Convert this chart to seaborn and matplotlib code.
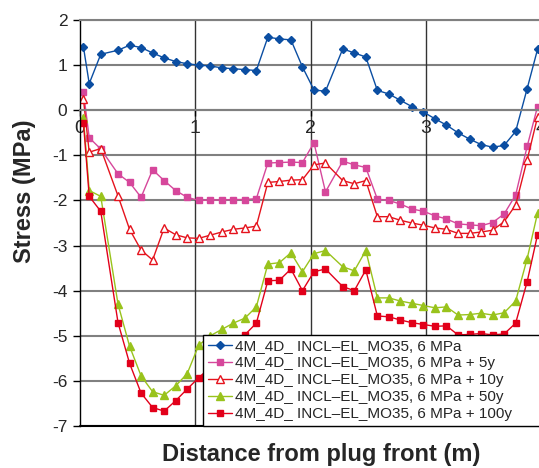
import matplotlib
matplotlib.use("Agg")
import matplotlib.pyplot as plt
import seaborn as sns

# distance along the plug (m)
distance = [0.03, 0.08, 0.18, 0.33, 0.43, 0.53, 0.63, 0.73, 0.83, 0.93,
            1.03, 1.13, 1.23, 1.33, 1.43, 1.53, 1.63, 1.73, 1.83, 1.93,
            2.03, 2.13, 2.28, 2.38, 2.48, 2.58, 2.68, 2.78, 2.88, 2.98,
            3.08, 3.18, 3.28, 3.38, 3.48, 3.58, 3.68, 3.78, 3.88, 3.97]

stress_0y = [1.40, 0.59, 1.24, 1.33, 1.44, 1.39, 1.27, 1.16, 1.08, 1.03,
             1.00, 0.98, 0.94, 0.92, 0.90, 0.88, 1.62, 1.58, 1.56, 0.96,
             0.45, 0.42, 1.36, 1.27, 1.18, 0.44, 0.36, 0.22, 0.08, -0.04,
             -0.19, -0.33, -0.50, -0.64, -0.76, -0.82, -0.78, -0.47, 0.48, 1.35]

stress_5y = [0.40, -0.61, -0.86, -1.41, -1.60, -1.93, -1.32, -1.56, -1.78, -1.93,
             -2.00, -1.99, -1.99, -1.98, -1.98, -1.96, -1.17, -1.16, -1.15, -1.16,
             -0.72, -1.81, -1.13, -1.21, -1.27, -1.97, -2.00, -2.08, -2.19, -2.24,
             -2.34, -2.41, -2.52, -2.54, -2.56, -2.49, -2.30, -1.88, -0.80, 0.08]

stress_10y = [0.24, -0.93, -0.85, -1.90, -2.64, -3.10, -3.32, -2.61, -2.76, -2.83,
              -2.84, -2.77, -2.70, -2.64, -2.61, -2.57, -1.60, -1.58, -1.55, -1.54,
              -1.21, -1.17, -1.56, -1.63, -1.56, -2.36, -2.36, -2.44, -2.50, -2.55,
              -2.61, -2.64, -2.73, -2.73, -2.70, -2.66, -2.47, -2.10, -1.10, -0.15]

stress_50y = [-0.17, -1.78, -1.91, -4.30, -5.23, -5.89, -6.24, -6.32, -6.11, -5.84,
              -5.21, -5.00, -4.86, -4.72, -4.61, -4.36, -3.41, -3.38, -3.16, -3.58,
              -3.18, -3.11, -3.47, -3.56, -3.11, -4.16, -4.16, -4.23, -4.28, -4.33,
              -4.38, -4.36, -4.54, -4.53, -4.50, -4.54, -4.49, -4.23, -3.29, -2.28]

stress_100y = [-0.28, -1.91, -2.24, -4.71, -5.61, -6.27, -6.59, -6.67, -6.44, -6.18,
               -5.93, -5.70, -5.45, -5.20, -4.98, -4.72, -3.78, -3.77, -3.52, -4.00,
               -3.58, -3.52, -3.91, -4.00, -3.54, -4.56, -4.58, -4.65, -4.71, -4.75,
               -4.79, -4.78, -4.98, -4.97, -4.95, -4.98, -4.96, -4.72, -3.80, -2.76]

labels = ["4M_4D_ INCL\u2013EL_MO35, 6 MPa",
          "4M_4D_ INCL\u2013EL_MO35, 6 MPa + 5y",
          "4M_4D_ INCL\u2013EL_MO35, 6 MPa + 10y",
          "4M_4D_ INCL\u2013EL_MO35, 6 MPa + 50y",
          "4M_4D_ INCL\u2013EL_MO35, 6 MPa + 100y"]

x_ticks = [0, 1, 2, 3, 4]
y_ticks = [2, 1, 0, -1, -2, -3, -4, -5, -6, -7]

sns.set_style("white")
plt.rcParams["font.family"] = ["Liberation Sans", "DejaVu Sans"]
plt.rcParams["axes.unicode_minus"] = False

fig = plt.figure(figsize=(5.39, 4.68), dpi=100)
ax = fig.add_axes([80 / 539, 42 / 468, 461 / 539, 406 / 468])

# series styles: (values, colour, marker, size, face)
styles = [
    (stress_0y, "#0B4EA2", "D", 4.5, None),
    (stress_5y, "#D6479B", "s", 5.0, None),
    (stress_10y, "#E5131D", "^", 5.5, "white"),
    (stress_50y, "#99C31C", "^", 6.0, None),
    (stress_100y, "#E2001A", "s", 3.8, None),
]

for (vals, col, mk, ms, face), lab in zip(styles, labels):
    sns.lineplot(x=distance, y=vals, ax=ax, color=col, marker=mk,
                 markersize=ms, markerfacecolor=face if face else col,
                 markeredgecolor=col, markeredgewidth=1.0,
                 linewidth=1.0, label=lab)

ax.set_xlim(0, 4)
ax.set_ylim(-7, 2)

# gridlines like the spreadsheet chart
for yv in y_ticks:
    ax.axhline(yv, color="#808080", linewidth=1.5, zorder=0.5)
for xv in [1, 2, 3]:
    ax.axvline(xv, color="#333333", linewidth=1.0, zorder=0.5)

# x axis crosses at zero (moving the spine resets ticks, so do it first)
ax.spines["bottom"].set_position(("data", 0))
ax.spines["bottom"].set_color("#808080")
ax.spines["bottom"].set_linewidth(1.5)
ax.spines["left"].set_color("black")
ax.spines["left"].set_linewidth(1.0)
ax.spines["top"].set_color("#808080")
ax.spines["top"].set_linewidth(1.5)
ax.spines["right"].set_color("black")
ax.axhline(-7, color="black", linewidth=1.5, zorder=0.6, clip_on=False)

ax.set_xticks(x_ticks)
ax.set_yticks(y_ticks)
ax.set_xticklabels([str(t) for t in x_ticks])
ax.set_yticklabels([str(t) for t in y_ticks])

ax.tick_params(axis="y", direction="out", length=5, width=1, pad=4,
               color="black", left=True, labelsize=12.5)
ax.tick_params(axis="x", direction="out", length=4, width=1, pad=3,
               color="black", bottom=True, labelsize=14)

ax.set_xlabel("Distance from plug front (m)", fontsize=17, fontweight="bold")
ax.set_ylabel("Stress (MPa)", fontsize=17, fontweight="bold")
ax.xaxis.set_label_coords(0.523, -0.071)
ax.xaxis.label.set_va("center")
ax.yaxis.set_label_coords(-0.121, 0.577)
ax.yaxis.label.set_va("center")

leg = ax.legend(loc="lower left", bbox_to_anchor=(0.267, 0.0, 0.742, 0.2),
                mode="expand", fontsize=11,
                frameon=True, fancybox=False, framealpha=1, edgecolor="black",
                borderpad=0.3, labelspacing=0.2, handlelength=1.6,
                handletextpad=0.2, borderaxespad=0)
leg.get_frame().set_linewidth(1.0)

fig.savefig("out.png", dpi=100)
